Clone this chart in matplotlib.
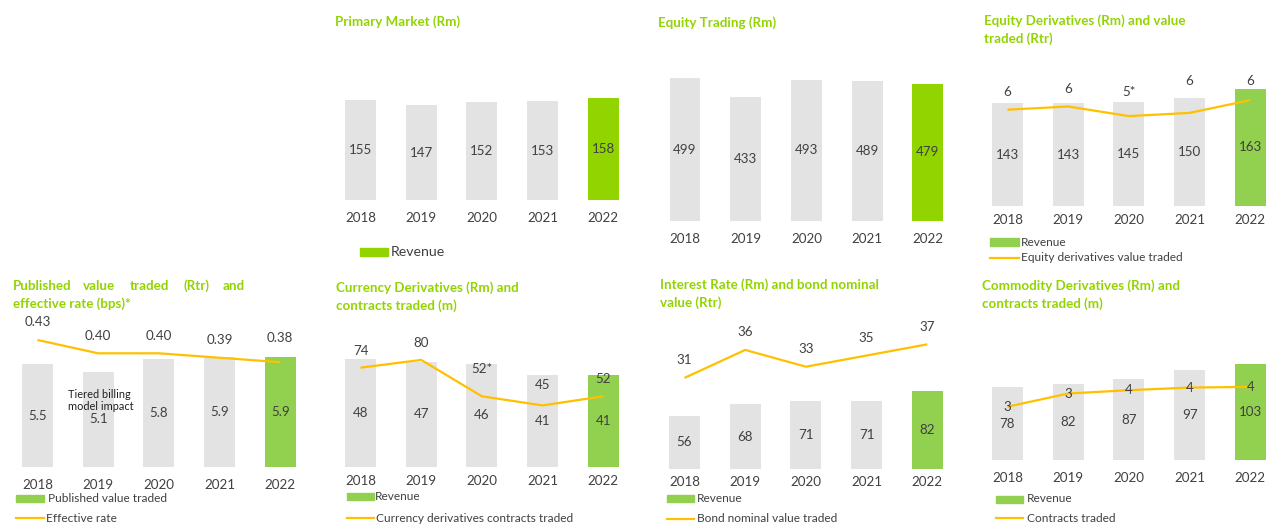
import matplotlib
matplotlib.use("Agg")
import matplotlib.pyplot as plt
from matplotlib.patches import Rectangle
from matplotlib.lines import Line2D

# ---------------- data ----------------
years = ["2018", "2019", "2020", "2021", "2022"]

primary_revenue = [155, 147, 152, 153, 158]
equity_trading_revenue = [499, 433, 493, 489, 479]

eqd_revenue = [143, 143, 145, 150, 163]
eqd_value_traded = [5.6, 5.7, 5.4, 5.5, 5.9]
eqd_value_labels = ["6", "6", "5*", "6", "6"]

pvt_value_traded = [5.5, 5.1, 5.8, 5.9, 5.9]
pvt_effective_rate = [0.43, 0.40, 0.40, 0.39, 0.38]
pvt_rate_labels = ["0.43", "0.40", "0.40", "0.39", "0.38"]

cd_revenue = [48, 47, 46, 41, 41]
cd_contracts = [74, 80, 52, 45, 52]
cd_contract_labels = ["74", "80", "52*", "45", "52"]

ir_revenue = [56, 68, 71, 71, 82]
ir_bond_value = [31, 36, 33, 35, 37]
ir_bond_labels = ["31", "36", "33", "35", "37"]

comd_revenue = [78, 82, 87, 97, 103]
comd_contracts = [3.0, 3.4, 3.5, 3.58, 3.6]
comd_contract_labels = ["3", "3", "4", "4", "4"]

# ---------------- style ----------------
W, H, DPI = 1266, 527, 100
GREY = "#E3E3E3"
LIME = "#92D400"
GREEN = "#92D050"
GOLD = "#FFC000"
TXT = "#404040"
TITLE_C = "#92D400"
FONT = "Lato"
plt.rcParams["font.family"] = [FONT, "DejaVu Sans"]

SP = 60.7      # px per category
BW = 0.51      # bar width (category units)
VAL_FS = 9.6
YEAR_FS = 9.6
LEG_FS = 8.6
TITLE_FS = 9.6

fig = plt.figure(figsize=(W / DPI, H / DPI), dpi=DPI)


def fx(x):
    return x / W


def fy(y):
    return 1 - y / H


def pt(px):
    return px * 72.0 / DPI


def title(x, y, s):
    fig.text(fx(x), fy(y), s, color=TITLE_C, fontsize=TITLE_FS,
             fontweight="bold", ha="left", va="center")


def leg_patch(x0, x1, yc, h, color, s, fs=LEG_FS, tx=None, tcol=TXT):
    fig.patches.append(Rectangle((fx(x0), fy(yc + h / 2)), (x1 - x0) / W, h / H,
                                 transform=fig.transFigure, color=color, figure=fig))
    fig.text(fx(tx if tx else x1 + 3), fy(yc), s, fontsize=fs, color=tcol,
             ha="left", va="center")


def leg_line(x0, x1, yc, s, tx=None):
    fig.lines.append(Line2D([fx(x0), fx(x1)], [fy(yc), fy(yc)], transform=fig.transFigure,
                            color=GOLD, lw=1.6, figure=fig))
    fig.text(fx(tx if tx else x1 + 3), fy(yc), s, fontsize=LEG_FS, color=TXT,
             ha="left", va="center")


def panel(center0, bottom, k, ymax, vals, hl, year_off, fmt="{:d}",
          line=None, line_k=None, line_lo=None, line_labels=None, line_off=None):
    height = ymax * k
    rect = [fx(center0 - SP / 2), fy(bottom), 5 * SP / W, height / H]
    ax = fig.add_axes(rect)
    ax.set_xlim(-0.5, 4.5)
    ax.set_ylim(0, ymax)
    ax.axis("off")
    x = list(range(len(vals)))
    ax.bar(x, vals, width=BW, color=[GREY] * 4 + [hl], linewidth=0)
    for i, v in enumerate(vals):
        ax.text(i, v / 2, fmt.format(v), ha="center", va="center",
                fontsize=VAL_FS, color=TXT)
        ax.annotate(years[i], xy=(i, 0), xytext=(0, -pt(year_off)),
                    textcoords="offset points", ha="center", va="center",
                    fontsize=YEAR_FS, color=TXT, annotation_clip=False)
    if line is not None:
        ax2 = fig.add_axes(rect)
        ax2.set_xlim(-0.5, 4.5)
        ax2.set_ylim(line_lo, line_lo + height / line_k)
        ax2.axis("off")
        ax2.plot(x, line, color=GOLD, lw=1.6, solid_capstyle="butt")
        for i, v in enumerate(line):
            ax2.annotate(line_labels[i], xy=(i, v), xytext=(0, pt(line_off[i])),
                         textcoords="offset points", ha="center", va="center",
                         fontsize=VAL_FS, color=TXT, annotation_clip=False)
    return ax


# ---------- top row ----------
title(335, 21.7, "Primary Market (Rm)")
panel(360.5, 200, 0.645, 240, primary_revenue, LIME, 17.7)
leg_patch(360, 388, 252, 8, LIME, "Revenue", fs=10.2, tx=391)

title(658.5, 22.3, "Equity Trading (Rm)")
panel(685, 220.7, 0.285, 600, equity_trading_revenue, LIME, 18)

title(983.5, 20.7, "Equity Derivatives (Rm) and value")
title(983.5, 39, "traded (Rtr)")
panel(1007.5, 205.7, 0.715, 220, eqd_revenue, GREEN, 14.3,
      line=eqd_value_traded, line_k=32, line_lo=2.6,
      line_labels=eqd_value_labels, line_off=[18, 17.3, 24.6, 32, 18.7])
leg_patch(990, 1019, 242, 8, GREEN, "Revenue", tx=1021)
leg_line(990, 1019, 257.7, "Equity derivatives value traded", tx=1021)

# ---------- bottom row ----------
# justified title words
for wx, w in zip([12.7, 83, 130, 183, 223], ["Published", "value", "traded", "(Rtr)", "and"]):
    title(wx, 285.7, w)
title(12.7, 303.3, "effective rate (bps)*")
panel(37.5, 466.7, 18.6, 8, pvt_value_traded, GREEN, 18.3, fmt="{:.1f}",
      line=pvt_effective_rate, line_k=444, line_lo=0.1446,
      line_labels=pvt_rate_labels, line_off=[17.7, 17.6, 17.6, 17.3, 24.6])
fig.text(fx(68), fy(400.5), "Tiered billing\nmodel impact", fontsize=7.9, color="#202020",
         ha="left", va="center", linespacing=1.1)
leg_patch(16, 44, 498.5, 7, GREEN, "Published value traded", tx=48)
leg_line(16, 44, 518, "Effective rate", tx=46)

title(335.5, 287.3, "Currency Derivatives (Rm) and")
title(335.5, 305.7, "contracts traded (m)")
panel(360.5, 466.7, 2.236, 60, cd_revenue, GREEN, 14,
      line=cd_contracts, line_k=1.3, line_lo=-2.15,
      line_labels=cd_contract_labels, line_off=[16.7, 17.3, 27.7, 20, 17.3])
leg_patch(347, 374, 496, 7, GREEN, "Revenue", tx=375)
leg_line(347, 374, 518.3, "Currency derivatives contracts traded", tx=376)

title(660, 285, "Interest Rate (Rm) and bond nominal")
title(660, 302.3, "value (Rtr)")
panel(684.5, 469, 0.951, 150, ir_revenue, GREEN, 13.3,
      line=ir_bond_value, line_k=5.59, line_lo=14.7,
      line_labels=ir_bond_labels, line_off=[17.7] * 5)
leg_patch(667, 694, 498.5, 7, GREEN, "Revenue", tx=697)
leg_line(667, 694, 519, "Bond nominal value traded", tx=697)

title(982.3, 285.7, "Commodity Derivatives (Rm) and")
title(982.3, 303.3, "contracts traded (m)")
panel(1007.5, 460, 0.93, 150, comd_revenue, GREEN, 17.7,
      line=comd_contracts, line_k=33, line_lo=1.385,
      line_labels=comd_contract_labels, line_off=[0] * 5)
leg_patch(996, 1023, 499, 7, GREEN, "Revenue", tx=1027)
leg_line(996, 1023, 518.3, "Contracts traded", tx=1027)

fig.savefig("out.png", dpi=DPI)
